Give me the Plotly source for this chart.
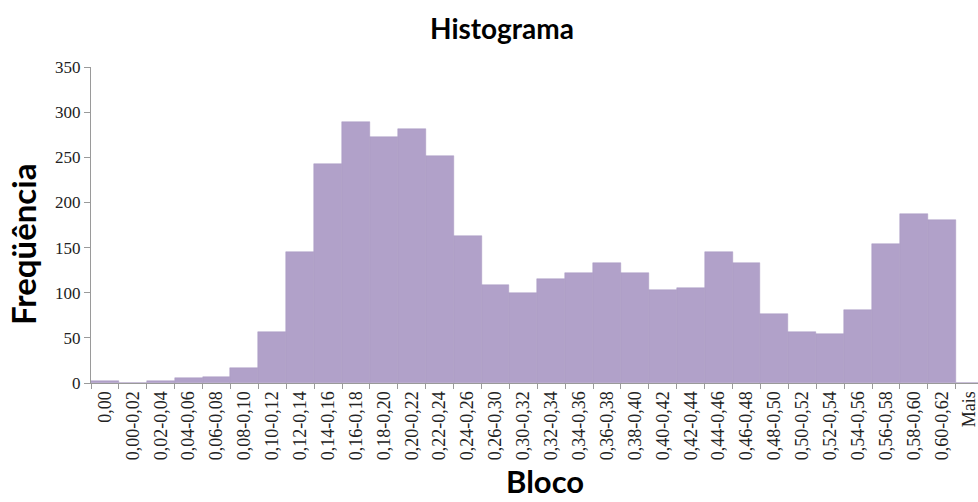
import plotly.graph_objects as go

categories = ["0,00", "0,00-0,02", "0,02-0,04", "0,04-0,06", "0,06-0,08", "0,08-0,10",
              "0,10-0,12", "0,12-0,14", "0,14-0,16", "0,16-0,18", "0,18-0,20", "0,20-0,22",
              "0,22-0,24", "0,24-0,26", "0,26-0,30", "0,30-0,32", "0,32-0,34", "0,34-0,36",
              "0,36-0,38", "0,38-0,40", "0,40-0,42", "0,42-0,44", "0,44-0,46", "0,46-0,48",
              "0,48-0,50", "0,50-0,52", "0,52-0,54", "0,54-0,56", "0,56-0,58", "0,58-0,60",
              "0,60-0,62", "Mais"]
frequencia = [2, 0, 2, 5, 7, 17,
              56, 145, 243, 289, 273, 281,
              251, 163, 109, 100, 115, 122,
              133, 122, 103, 105, 145, 133,
              76, 56, 54, 81, 154, 187,
              180, 0]
y_ticks = [0, 50, 100, 150, 200, 250, 300, 350]

W, H = 978, 502
L, T, B = 91, 67, 119
PW, PH = W - L, H - T - B


def px(xp):
    return (xp - L) / PW


def py(yp):
    return (H - B - yp) / PH


fig = go.Figure(go.Bar(
    x=categories, y=frequencia,
    marker=dict(color="#b1a1c9", line=dict(width=0.5, color="#a898c0")),
))

title_font = "Lato, Open Sans, sans-serif"
fig.update_layout(
    width=W, height=H,
    margin=dict(l=L, r=0, t=T, b=B),
    paper_bgcolor="white", plot_bgcolor="white",
    bargap=0, showlegend=False,
    font=dict(family="Liberation Serif", color="black"),
    annotations=[
        dict(text="<b>Histograma</b>", xref="paper", yref="paper", x=px(502), y=py(28),
             xanchor="center", yanchor="middle", showarrow=False,
             font=dict(family=title_font, size=28, color="black")),
        dict(text="<b>Freqüência</b>", xref="paper", yref="paper", x=px(23), y=py(245),
             xanchor="center", yanchor="middle", showarrow=False, textangle=-90,
             font=dict(family=title_font, size=33, color="black")),
        dict(text="<b>Bloco</b>", xref="paper", yref="paper", x=px(545), y=py(481),
             xanchor="center", yanchor="middle", showarrow=False,
             font=dict(family=title_font, size=31, color="black")),
    ],
)
fig.update_xaxes(
    type="category", range=[-0.5, 31.3], automargin=False,
    tickangle=-90, tickfont=dict(family="Liberation Serif", size=18, color="#222"),
    showline=True, linecolor="#9a9a9a", linewidth=1,
    ticks="outside", tickcolor="#9a9a9a", ticklen=5, tickson="boundaries",
    showgrid=False,
)
fig.update_yaxes(
    range=[0, 350], tickvals=y_ticks, automargin=False,
    tickfont=dict(family="Liberation Serif", size=17, color="#222"),
    showline=True, linecolor="#9a9a9a", linewidth=1,
    ticks="outside", tickcolor="#9a9a9a", ticklen=6,
    showgrid=False, zeroline=False,
)

fig.write_html(
    "out.html",
    config={"displayModeBar": False},
    post_script="document.body.style.margin='0';document.body.style.padding='0';document.body.style.overflow='hidden';",
)
